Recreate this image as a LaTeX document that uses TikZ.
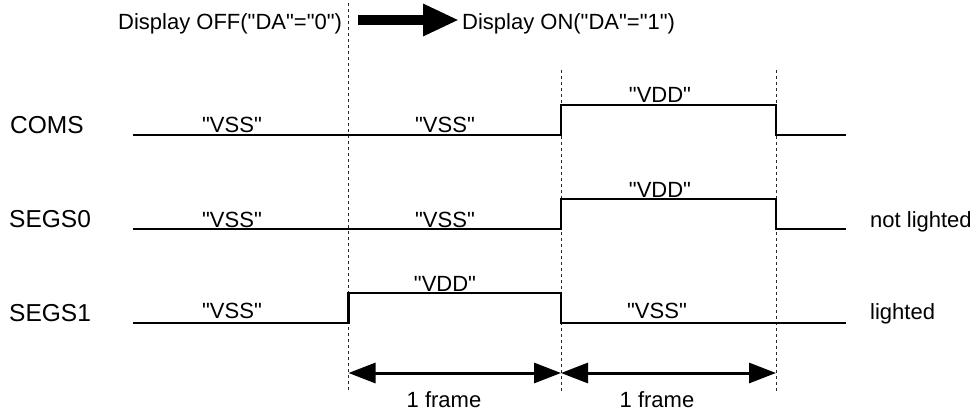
\documentclass[tikz,border=0pt]{standalone}
\usepackage{fontspec}
\setmainfont{Liberation Sans}
\usetikzlibrary{arrows.meta}
\newcommand{\dq}{\XeTeXglyph\the\XeTeXcharglyph"22\relax}
\begin{document}
\begin{tikzpicture}[x=1pt,y=-1pt,
  txt/.style={inner sep=0pt,font=\fontsize{22}{24}\selectfont},
  sig/.style={inner sep=0pt,anchor=base west,font=\fontsize{24.5}{26}\selectfont},
  lvl/.style={txt,anchor=base},
  wave/.style={line width=2.8pt,line cap=butt,line join=miter},
  guide/.style={line width=0.9pt,dash pattern=on 2.5pt off 3.5pt,black!85},
  frame/.style={line width=3pt,{Triangle[length=27pt,width=20pt]}-{Triangle[length=27pt,width=20pt]}},
  bigarrow/.style={line width=9.5pt,-{Triangle[length=36pt,width=30pt]}}]
\useasboundingbox (0,0) rectangle (977,410);
% top caption
\node[txt,anchor=base west] (off) at (118,29) {Display OFF(\dq DA\dq=\dq 0\dq)};
\node[txt,anchor=base west] (on) at (462,29) {Display ON(\dq DA\dq=\dq 1\dq)};
\coordinate (a0) at (358,20);
\coordinate (a1) at (459,20);
\draw[bigarrow] (a0) -- (a1);
% guide lines
\coordinate (g1t) at (348.5,3);  \coordinate (g1b) at (348.5,392);
\coordinate (g2t) at (561,70);   \coordinate (g2b) at (561,392);
\coordinate (g3t) at (776,70);   \coordinate (g3b) at (776,392);
\draw[guide] (g1t) -- (g1b);
\draw[guide] (g2t) -- (g2b);
\draw[guide] (g3t) -- (g3b);
% signal names
\node[sig] (coms) at (10,133) {COMS};
\node[sig] (segs0) at (9,227) {SEGS0};
\node[sig] (segs1) at (9,321) {SEGS1};
\node[txt,anchor=base west] (nl) at (870,227) {not lighted};
\node[txt,anchor=base west] (li) at (870,319) {lighted};
% COMS waveform
\coordinate (c0) at (133,135); \coordinate (c1) at (561,135);
\coordinate (c2) at (561,105); \coordinate (c3) at (776,105);
\coordinate (c4) at (776,135); \coordinate (c5) at (846,135);
\draw[wave] (c0) -- (c1) -- (c2) -- (c3) -- (c4) -- (c5);
\node[lvl] (cv1) at (232,132) {\dq VSS\dq};
\node[lvl] (cv2) at (445,132) {\dq VSS\dq};
\node[lvl] (cv3) at (660,102) {\dq VDD\dq};
% SEGS0 waveform
\coordinate (s0) at (133,229); \coordinate (s1) at (561,229);
\coordinate (s2) at (561,199); \coordinate (s3) at (776,199);
\coordinate (s4) at (776,229); \coordinate (s5) at (846,229);
\draw[wave] (s0) -- (s1) -- (s2) -- (s3) -- (s4) -- (s5);
\node[lvl] (sv1) at (232,227) {\dq VSS\dq};
\node[lvl] (sv2) at (445,227) {\dq VSS\dq};
\node[lvl] (sv3) at (660,197) {\dq VDD\dq};
% SEGS1 waveform
\coordinate (t0) at (133,323); \coordinate (t1) at (348.5,323);
\coordinate (t2) at (348.5,293); \coordinate (t3) at (561,293);
\coordinate (t4) at (561,323); \coordinate (t5) at (846,323);
\draw[wave] (t0) -- (t1) -- (t2) -- (t3) -- (t4) -- (t5);
\node[lvl] (tv1) at (232,318) {\dq VSS\dq};
\node[lvl] (tv2) at (445,291) {\dq VDD\dq};
\node[lvl] (tv3) at (657,318) {\dq VSS\dq};
% frame arrows
\coordinate (f0) at (348.5,373);
\coordinate (f1) at (561,373);
\coordinate (f2) at (776,373);
\draw[frame] (f0) -- (f1);
\draw[frame] (f1) -- (f2);
\node[lvl] (fr1) at (444,407) {1 frame};
\node[lvl] (fr2) at (657,407) {1 frame};
\end{tikzpicture}
\end{document}
